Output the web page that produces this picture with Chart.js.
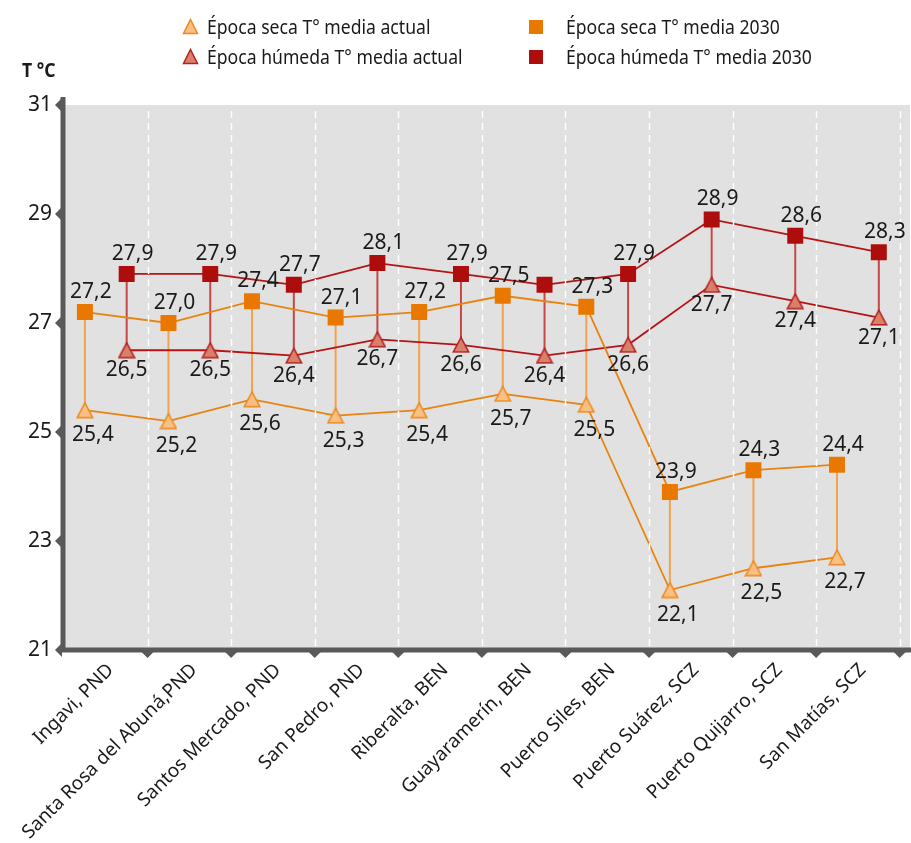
<!DOCTYPE html>
<html>
<head>
<meta charset="utf-8">
<script src="https://cdn.jsdelivr.net/npm/chart.js@4.4.0/dist/chart.umd.min.js"></script>
<style>
html, body { margin: 0; padding: 0; background: #fff; }
#wrap { position: relative; width: 911px; height: 843px; overflow: hidden; }
#grafico { position: absolute; left: 0; top: 0; }
.txt { position: absolute; font-family: "Noto Sans", sans-serif; font-size: 20px; line-height: 28px; color: #1a1a1a; white-space: nowrap; transform: scaleX(0.88); transform-origin: 0 50%; }
.ico { position: absolute; }
#titulo { font-weight: bold; }
</style>
</head>
<body>
<div id="wrap">
  <canvas id="grafico" width="911" height="843"></canvas>
  <!-- leyenda -->
  <svg class="ico" style="left:182px;top:18px" width="17" height="17"><polygon points="8.5,1.5 15.5,15.5 1.5,15.5" fill="#f9bf83" stroke="#ed8a1c" stroke-width="1.5"/></svg>
  <div class="txt" style="left:207px;top:13px">Época seca T° media actual</div>
  <svg class="ico" style="left:182px;top:48px" width="17" height="17"><polygon points="8.5,1.5 15.5,15.5 1.5,15.5" fill="#d9806a" stroke="#b52020" stroke-width="1.5"/></svg>
  <div class="txt" style="left:207px;top:43px">Época húmeda T° media actual</div>
  <svg class="ico" style="left:529px;top:20px" width="14" height="14"><rect x="0" y="0" width="14" height="14" fill="#e87800"/></svg>
  <div class="txt" style="left:566px;top:13px">Época seca T° media 2030</div>
  <svg class="ico" style="left:529px;top:50px" width="14" height="14"><rect x="0" y="0" width="14" height="14" fill="#ad0d0d"/></svg>
  <div class="txt" style="left:566px;top:43px">Época húmeda T° media 2030</div>
  <div class="txt" id="titulo" style="left:22px;top:56px">T °C</div>
</div>
<script>
// datos
const categorias = ['Ingavi, PND', 'Santa Rosa del Abuná,PND', 'Santos Mercado, PND', 'San Pedro, PND',
    'Riberalta, BEN', 'Guayaramerín, BEN', 'Puerto Siles, BEN', 'Puerto Suárez, SCZ',
    'Puerto Quijarro, SCZ', 'San Matías, SCZ'];
const secaActual = [25.4, 25.2, 25.6, 25.3, 25.4, 25.7, 25.5, 22.1, 22.5, 22.7];
const secaFutura = [27.2, 27.0, 27.4, 27.1, 27.2, 27.5, 27.3, 23.9, 24.3, 24.4];
const humedaActual = [26.5, 26.5, 26.4, 26.7, 26.6, 26.4, 26.6, 27.7, 27.4, 27.1];
const humedaFutura = [27.9, 27.9, 27.7, 28.1, 27.9, 27.7, 27.9, 28.9, 28.6, 28.3];
const ticksY = [21, 23, 25, 27, 29, 31];
// etiqueta que no aparece en el original (Guayaramerín, húmeda 2030)
const ocultas = [[3, 5]];

const FUENTE = '"Noto Sans", "Open Sans", sans-serif';

// marcador triangular centrado en su caja
function triangulo(relleno, borde) {
    const c = document.createElement('canvas');
    c.width = 18; c.height = 17;
    const g = c.getContext('2d');
    g.beginPath();
    g.moveTo(9, 1.2); g.lineTo(16.8, 15.8); g.lineTo(1.2, 15.8); g.closePath();
    g.fillStyle = relleno; g.fill();
    g.lineWidth = 1.5; g.strokeStyle = borde; g.stroke();
    return c;
}

function puntos(valores) {
    return valores.map((v, i) => ({ x: i, y: v }));
}

function fmt(v) {
    return v.toFixed(1).replace('.', ',');
}

// desplazamiento de las etiquetas de cada serie
const desplaz = [
    { dx: 8, dy: 25 },
    { dx: 6, dy: -20 },
    { dx: 0, dy: 20 },
    { dx: 6, dy: -20 }
];

const decor = {
    id: 'decor',
    beforeDraw(chart) {
        const { ctx, chartArea: a } = chart;
        ctx.save();
        ctx.fillStyle = '#e1e1e1';
        ctx.fillRect(a.left, a.top, chart.width - 1 - a.left, a.bottom - a.top);
        ctx.restore();
    },
    beforeDatasetsDraw(chart) {
        // lineas verticales entre actual y 2030
        const ctx = chart.ctx;
        const pares = [[0, 1, '#f2a24e'], [2, 3, '#c44848']];
        ctx.save();
        ctx.lineWidth = 2;
        pares.forEach(([a, b, color]) => {
            const ma = chart.getDatasetMeta(a).data;
            const mb = chart.getDatasetMeta(b).data;
            ctx.strokeStyle = color;
            ma.forEach((p, i) => {
                ctx.beginPath();
                ctx.moveTo(p.x, p.y);
                ctx.lineTo(mb[i].x, mb[i].y);
                ctx.stroke();
            });
        });
        ctx.restore();
    },
    afterDatasetsDraw(chart) {
        const { ctx, chartArea: a } = chart;
        const xc = chart.scales.x;
        const y = chart.scales.y;
        const banda = (xc.right - xc.left) / categorias.length;
        ctx.save();

        // cuadricula vertical punteada
        ctx.strokeStyle = '#ffffff';
        ctx.lineWidth = 1.5;
        ctx.setLineDash([7, 5]);
        for (let k = 1; k <= categorias.length; k++) {
            const x = Math.round(xc.left + k * banda) + 0.5;
            ctx.beginPath();
            ctx.moveTo(x, a.top + 6);
            ctx.lineTo(x, a.bottom - 2);
            ctx.stroke();
        }
        ctx.setLineDash([]);

        // ejes
        ctx.strokeStyle = '#595959';
        ctx.fillStyle = '#595959';
        ctx.lineWidth = 5;
        ctx.beginPath();
        ctx.moveTo(a.left - 1, a.top - 8);
        ctx.lineTo(a.left - 1, a.bottom + 2);
        ctx.stroke();
        ctx.beginPath();
        ctx.moveTo(a.left - 3, a.bottom);
        ctx.lineTo(chart.width, a.bottom);
        ctx.stroke();
        ticksY.forEach(v => {
            const py = y.getPixelForValue(v);
            ctx.beginPath();
            ctx.moveTo(a.left - 9, py);
            ctx.lineTo(a.left - 2, py - 7);
            ctx.lineTo(a.left - 2, py + 7);
            ctx.closePath();
            ctx.fill();
        });
        for (let k = 1; k <= categorias.length; k++) {
            const x = xc.left + k * banda;
            ctx.beginPath();
            ctx.moveTo(x - 7, a.bottom + 1);
            ctx.lineTo(x + 7, a.bottom + 1);
            ctx.lineTo(x, a.bottom + 8);
            ctx.closePath();
            ctx.fill();
        }

        // etiquetas de datos
        ctx.fillStyle = '#1a1a1a';
        ctx.font = '21px ' + FUENTE;
        ctx.textAlign = 'center';
        ctx.textBaseline = 'middle';
        chart.data.datasets.forEach((ds, d) => {
            chart.getDatasetMeta(d).data.forEach((p, i) => {
                if (ocultas.some(([od, oi]) => od === d && oi === i)) return;
                ctx.fillText(fmt(ds.data[i].y), p.x + desplaz[d].dx, p.y + desplaz[d].dy);
            });
        });

        // etiquetas del eje x, giradas 45 grados
        ctx.font = '19px ' + FUENTE;
        ctx.textAlign = 'right';
        categorias.forEach((c, i) => {
            ctx.save();
            ctx.translate(xc.getPixelForTick(i) + 5, a.bottom + 17);
            ctx.rotate(-Math.PI / 4);
            ctx.fillText(c, 0, 0);
            ctx.restore();
        });
        ctx.restore();
    }
};

const triSeca = triangulo('#f9bf83', '#ed8a1c');
const triHumeda = triangulo('#d9806a', '#b52020');

new Chart(document.getElementById('grafico'), {
    type: 'line',
    data: {
        labels: categorias,
        datasets: [{
            label: 'Época seca T° media actual',
            data: puntos(secaActual),
            xAxisID: 'xs',
            borderColor: '#e9830f',
            borderWidth: 1.8,
            pointStyle: triSeca,
            pointRadius: 9
        }, {
            label: 'Época seca T° media 2030',
            data: puntos(secaFutura),
            xAxisID: 'xs',
            borderColor: '#e9830f',
            borderWidth: 1.8,
            pointStyle: 'rect',
            pointRadius: 11.3,
            pointBackgroundColor: '#e87800',
            pointBorderColor: '#e87800',
            pointBorderWidth: 0
        }, {
            label: 'Época húmeda T° media actual',
            data: puntos(humedaActual),
            xAxisID: 'xh',
            borderColor: '#b51414',
            borderWidth: 1.8,
            pointStyle: triHumeda,
            pointRadius: 9
        }, {
            label: 'Época húmeda T° media 2030',
            data: puntos(humedaFutura),
            xAxisID: 'xh',
            borderColor: '#b51414',
            borderWidth: 1.8,
            pointStyle: 'rect',
            pointRadius: 11.3,
            pointBackgroundColor: '#ad0d0d',
            pointBorderColor: '#ad0d0d',
            pointBorderWidth: 0
        }]
    },
    options: {
        responsive: false,
        animation: false,
        events: [],
        layout: { padding: { top: 105, right: 9, bottom: 0, left: 0 } },
        plugins: { legend: { display: false }, tooltip: { enabled: false } },
        scales: {
            x: {
                type: 'category',
                offset: true,
                grid: { display: false, drawTicks: false },
                border: { display: false },
                ticks: { display: false },
                afterFit(s) { s.height = 193; s.paddingLeft = 0; s.paddingRight = 0; }
            },
            // ejes ocultos para colocar cada par de series dentro de la categoria
            xs: { type: 'linear', display: false, min: -0.25, max: categorias.length - 0.25 },
            xh: { type: 'linear', display: false, min: -0.75, max: categorias.length - 0.75 },
            y: {
                min: 21,
                max: 31,
                afterBuildTicks(s) { s.ticks = ticksY.map(v => ({ value: v })); },
                grid: { display: false, drawTicks: false },
                border: { display: false },
                ticks: {
                    padding: 12,
                    color: '#1a1a1a',
                    font: { family: FUENTE, size: 21 },
                    callback: v => String(v)
                },
                afterFit(s) { s.width = 64; }
            }
        }
    },
    plugins: [decor]
});
</script>
</body>
</html>
